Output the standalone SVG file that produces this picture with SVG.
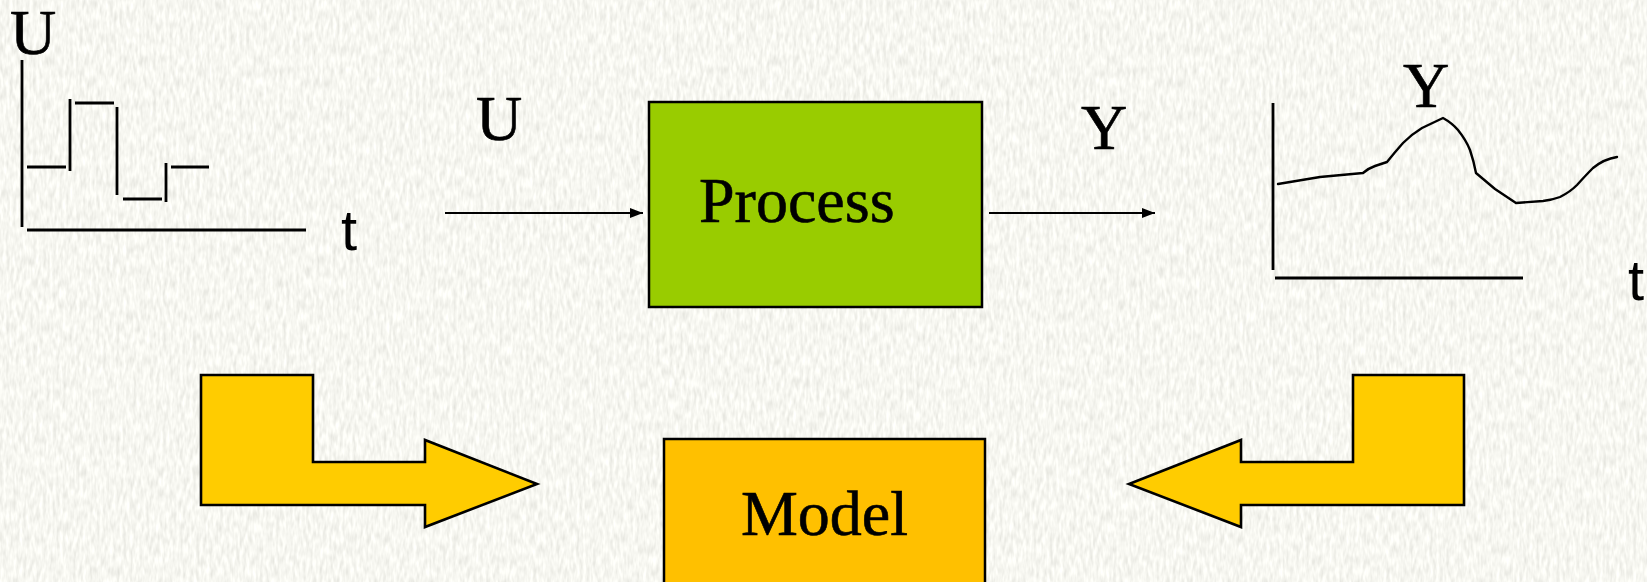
<svg xmlns="http://www.w3.org/2000/svg" width="1647" height="582" viewBox="0 0 1647 582">
  <style>
    .serif { font-family: "Liberation Serif", "Times New Roman", serif; fill: #000; stroke: #000; stroke-width: 0.6; }
    .sans { font-family: "Liberation Sans", Arial, sans-serif; fill: #000; }
    .axis { stroke: #000; stroke-width: 2.8; fill: none; }
    .trace { stroke: #000; stroke-width: 2.4; fill: none; stroke-linejoin: round; stroke-linecap: round; }
    .box { stroke: #000; stroke-width: 2.5; }
    .bend { fill: #FFCC00; stroke: #000; stroke-width: 2.6; stroke-linejoin: miter; }
    .link { stroke: #000; stroke-width: 2.2; fill: none; }
  </style>
  <defs>
    <marker id="head" viewBox="0 0 13 10" refX="13" refY="5" markerWidth="13" markerHeight="10" markerUnits="userSpaceOnUse" orient="auto">
      <path d="M0,0 L13,5 L0,10 Z" fill="#000"/>
    </marker>
    <!-- woven paper texture for the backdrop -->
    <filter id="paper" x="0" y="0" width="100%" height="100%">
      <feTurbulence type="fractalNoise" baseFrequency="0.3 0.09" numOctaves="2" seed="4" result="n"/>
      <feColorMatrix in="n" type="matrix" values="0.38 0 0 0 0.74  0.38 0 0 0 0.74  0.38 0 0 0 0.69  0 0 0 0 1"/>
    </filter>
  </defs>

  <!-- backdrop -->
  <rect x="0" y="0" width="1647" height="582" fill="#EEEEE1"/>
  <rect x="0" y="0" width="1647" height="582" filter="url(#paper)"/>

  <!-- input signal chart -->
  <g id="input-chart">
    <text class="serif" x="10" y="54" font-size="64">U</text>
    <path class="axis" d="M22,60 V227 M27,230 H306"/>
    <path class="axis" d="M27,167 H66 M70,99 V171 M75,103 H114 M117,107 V195 M123,199 H162 M166,163 V202 M171,167 H209"/>
    <text class="sans" x="341" y="250" font-size="58">t</text>
  </g>

  <!-- output signal chart -->
  <g id="output-chart">
    <text class="serif" x="1426" y="107" font-size="64" text-anchor="middle">Y</text>
    <path class="axis" d="M1273,103 V270 M1275,278 H1523"/>
    <path class="trace" d="M1278,184 L1320,177 L1363,173 Q1369,168 1375,166 L1387,162 Q1395,152 1403,143 Q1412,134 1422,128 L1443,118 Q1452,123 1458,130 Q1466,140 1470,150 Q1474,162 1476,173 L1495,189 L1516,203 L1543,201 Q1552,200 1560,197 Q1570,192 1577,185 Q1586,175 1593,168 Q1604,159 1617,157"/>
    <text class="sans" x="1628" y="300" font-size="58">t</text>
  </g>

  <!-- process block -->
  <g id="process">
    <rect class="box" x="649" y="102" width="333" height="205" fill="#99CC00"/>
    <text class="serif" x="699" y="222" font-size="64">Process</text>
  </g>

  <!-- model block -->
  <g id="model">
    <rect class="box" x="664" y="439" width="321" height="160" fill="#FFC000"/>
    <text class="serif" x="824.5" y="535" font-size="64" text-anchor="middle">Model</text>
  </g>

  <!-- signal connectors and feed arrows -->
  <g id="connectors">
    <line class="link" x1="445" y1="213" x2="643" y2="213" marker-end="url(#head)"/>
    <text class="serif" x="476" y="140" font-size="64">U</text>
    <line class="link" x1="989" y1="213" x2="1155" y2="213" marker-end="url(#head)"/>
    <text class="serif" x="1081" y="149" font-size="64">Y</text>
    <path class="bend" d="M201,375 H313 V462 H425 V440 L537,484 L425,527 V505 H201 Z"/>
    <path class="bend" d="M1464,375 H1353 V462 H1241 V440 L1129,484 L1241,527 V505 H1464 Z"/>
  </g>
</svg>
